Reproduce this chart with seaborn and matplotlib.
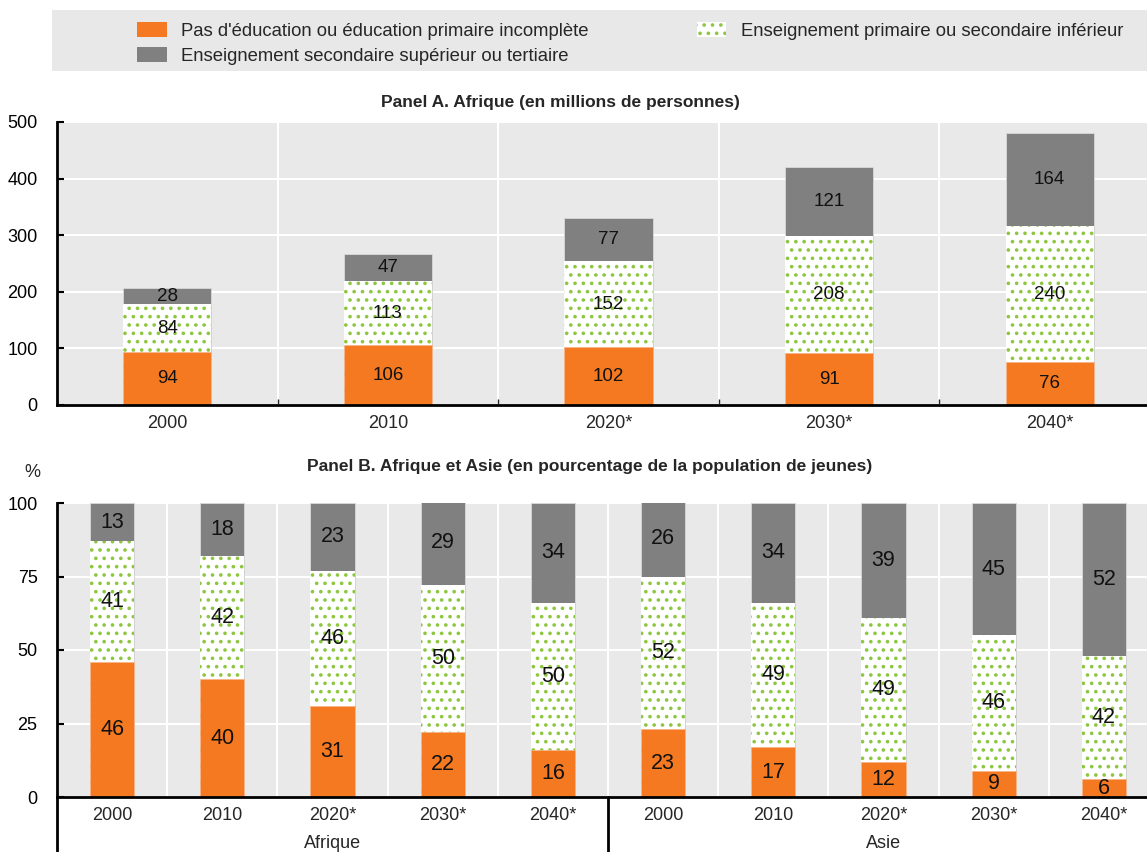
import numpy as np
import pandas as pd
import matplotlib
matplotlib.use("Agg")
import matplotlib.pyplot as plt
import seaborn as sns
from matplotlib.patches import Patch, Rectangle
from matplotlib.ticker import FixedLocator

# ---------------- data ----------------
years = ["2000", "2010", "2020*", "2030*", "2040*"]
a_none = [94, 106, 102, 91, 76]
a_prim = [84, 113, 152, 208, 240]
a_sec = [28, 47, 77, 121, 164]

regions = ["Afrique", "Asie"]
b_afr_none = [46, 40, 31, 22, 16]
b_afr_prim = [41, 42, 46, 50, 50]
b_afr_sec = [13, 18, 23, 29, 34]
b_asia_none = [23, 17, 12, 9, 6]
b_asia_prim = [52, 49, 49, 46, 42]
b_asia_sec = [26, 34, 39, 45, 52]

series_labels = ["Pas d'éducation ou éducation primaire incomplète",
                 "Enseignement secondaire supérieur ou tertiaire",
                 "Enseignement primaire ou secondaire inférieur"]
titleA = "Panel A. Afrique (en millions de personnes)"
titleB = "Panel B. Afrique et Asie (en pourcentage de la population de jeunes)"

ORANGE = "#F47920"
GRAY = "#808080"
GREEN = "#8DC63F"
BG = "#E9E9E9"

sns.set_theme(style="white", rc={"axes.facecolor": BG, "hatch.linewidth": 1.4})
plt.rcParams["font.family"] = ["Liberation Sans Narrow", "Liberation Sans", "DejaVu Sans"]

W, H = 1147, 852
fig = plt.figure(figsize=(W / 100, H / 100), dpi=100)

def px_axes(left, top, right, bottom):
    return fig.add_axes([left / W, 1 - bottom / H, (right - left) / W, (bottom - top) / H])

axA = px_axes(57, 122, 1160, 405)
axB = px_axes(57, 503, 1159, 797)


def stacked(ax, keys, none, prim, sec, fs):
    df = pd.DataFrame({"x": keys, "none": none, "prim": prim, "sec": sec})
    df["np"] = df["none"] + df["prim"]
    df["total"] = df["np"] + df["sec"]
    common = dict(data=df, x="x", order=keys, width=0.4, saturation=1,
                  errorbar=None, ax=ax)
    sns.barplot(y="total", color=GRAY, edgecolor="#d9d9d9", linewidth=0.6, **common)
    sns.barplot(y="np", color="white", edgecolor=GREEN, hatch="..", linewidth=0, **common)
    sns.barplot(y="none", color=ORANGE, edgecolor="#f6b48a", linewidth=0.6, **common)
    for i, r in df.iterrows():
        ax.text(i, r["none"] / 2, f"{r['none']}", ha="center", va="center", fontsize=fs, color="#111111")
        ax.text(i, r["none"] + r["prim"] / 2, f"{r['prim']}", ha="center", va="center", fontsize=fs, color="#111111")
        ax.text(i, r["np"] + r["sec"] / 2, f"{r['sec']}", ha="center", va="center", fontsize=fs, color="#111111")
    n = len(keys)
    ax.set_xlim(-0.5, n - 0.5)
    ax.xaxis.set_minor_locator(FixedLocator(np.arange(0.5, n - 0.5, 1)))
    ax.grid(True, axis="y", color="white", lw=1.5)
    ax.grid(True, axis="x", which="minor", color="white", lw=1.5)
    ax.set_axisbelow(True)
    ax.set_xlabel("")
    ax.set_ylabel("")
    for s in ["top", "right"]:
        ax.spines[s].set_visible(False)
    for s in ["left", "bottom"]:
        ax.spines[s].set_color("black")
        ax.spines[s].set_linewidth(2)
    ax.tick_params(axis="y", which="major", direction="in", length=5, width=1.5,
                   left=True, labelsize=13, pad=14, colors="black")
    ax.tick_params(axis="x", which="major", length=0, labelsize=13, pad=7)
    ax.tick_params(axis="x", which="minor", direction="in", length=4, width=1, bottom=True)


# Panel A
stacked(axA, years, a_none, a_prim, a_sec, 13.5)
axA.set_ylim(0, 500)
axA.set_yticks([0, 100, 200, 300, 400, 500])
axA.set_xticks(range(len(years)))
axA.set_xticklabels(years)

# Panel B
keysB = [f"{rg} {y}" for rg in regions for y in years]
stacked(axB, keysB, b_afr_none + b_asia_none, b_afr_prim + b_asia_prim,
        b_afr_sec + b_asia_sec, 15.5)
axB.set_ylim(0, 100)
axB.set_yticks([0, 25, 50, 75, 100])
axB.set_xticks(range(len(keysB)))
axB.set_xticklabels(years * 2)
axB.tick_params(axis="x", which="minor", length=0)
tr = axB.get_xaxis_transform()
for k, rg in enumerate(regions):
    axB.text(2 + 5 * k, -0.158, rg, transform=tr, ha="center", va="center", fontsize=13)
for xs in [-0.5, 4.5]:
    axB.plot([xs, xs], [0, -0.2], transform=tr, color="black", lw=2, clip_on=False)

# titles
fig.text(560 / W, 1 - 103 / H, titleA, ha="center", va="center", fontsize=12.5, fontweight="bold")
fig.text(590 / W, 1 - 466 / H, titleB, ha="center", va="center", fontsize=12.5, fontweight="bold")
fig.text(32 / W, 1 - 473 / H, "%", ha="center", va="center", fontsize=13)

# legend
fig.patches.append(Rectangle((52 / W, 1 - 71 / H), 1095 / W, 61 / H, transform=fig.transFigure,
                             facecolor="#E8E8E8", edgecolor="none", zorder=0))
handles = [Patch(facecolor=ORANGE, edgecolor="none"),
           Patch(facecolor=GRAY, edgecolor="none"),
           Patch(facecolor="white", edgecolor=GREEN, hatch="..", linewidth=0)]
fig.legend(handles, series_labels, ncol=2, loc="upper left",
           bbox_to_anchor=(137 / W, 1 - 22 / H), frameon=False, fontsize=13.3,
           handlelength=1.6, handleheight=0.85, handletextpad=0.8,
           columnspacing=5.85, labelspacing=0.4, borderpad=0, borderaxespad=0)

fig.savefig("out.png", dpi=100)
